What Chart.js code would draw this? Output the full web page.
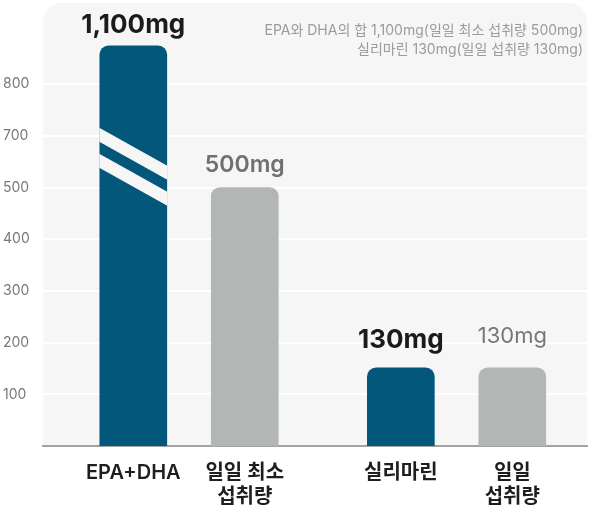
<!DOCTYPE html>
<html lang="ko">
<head>
<meta charset="utf-8">
<script src="https://cdn.jsdelivr.net/npm/chart.js@4/dist/chart.umd.min.js"></script>
<style>
  html, body { margin: 0; padding: 0; background: #fff; }
  #wrap { width: 589px; height: 505px; }
</style>
</head>
<body>
<div id="wrap"><canvas id="omegaChart" width="589" height="505"></canvas></div>
<script>
// ------------------------------------------------------------
// DATA
// ------------------------------------------------------------
const categories = [["EPA+DHA"], ["일일 최소", "섭취량"], ["실리마린"], ["일일", "섭취량"]];
const amountsMg = [1100, 500, 130, 130];          // printed above each bar
const barHeights = [774, 500, 151, 151];          // drawn height on the (broken) axis
const yTickValues = [100, 200, 300, 400, 500, 600, 700];
const yTickLabels = ["100", "200", "300", "400", "500", "700", "800"];
const noteLines = [
  "EPA와 DHA의 합 1,100mg(일일 최소 섭취량 500mg)",
  "실리마린 130mg(일일 섭취량 130mg)"
];

// ------------------------------------------------------------
// STYLE / LAYOUT
// ------------------------------------------------------------
const FONT = "Inter, 'Noto Sans CJK KR', sans-serif";
const BLUE = "#03577a";
const GRAY = "#b2b6b4";
const PANEL = "#f6f6f6";
const barColors = [BLUE, GRAY, BLUE, GRAY];
const barSlots = [0, 1, 2.4, 3.4];               // x position of each bar (gap between groups)
const brokenBar = 0;                              // bar that gets the break marks
const breakValue = 540;

const labelStyles = [
  { font: "700 26px " + FONT, color: "#1b1b1b", gap: 13 },
  { font: "600 23px " + FONT, color: "#707070", gap: 16 },
  { font: "700 26px " + FONT, color: "#1b1b1b", gap: 20 },
  { font: "400 22px " + FONT, color: "#777777", gap: 25 }
];

// ------------------------------------------------------------
// PLUGINS
// ------------------------------------------------------------
const panelPlugin = {
  id: "panel",
  beforeDraw(chart) {
    const { ctx, chartArea: a } = chart;
    const r = 18;
    ctx.save();
    ctx.fillStyle = PANEL;
    ctx.beginPath();
    ctx.moveTo(a.left, a.bottom);
    ctx.lineTo(a.left, a.top + r);
    ctx.arcTo(a.left, a.top, a.left + r, a.top, r);
    ctx.lineTo(a.right - r, a.top);
    ctx.arcTo(a.right, a.top, a.right, a.top + r, r);
    ctx.lineTo(a.right, a.bottom);
    ctx.closePath();
    ctx.fill();
    ctx.restore();
  }
};

const barLabelPlugin = {
  id: "barLabels",
  afterDatasetsDraw(chart) {
    const { ctx } = chart;
    const meta = chart.getDatasetMeta(0);
    const yScale = chart.scales.y;

    // break marks on the tall bar
    const bar = meta.data[brokenBar];
    if (bar) {
      const c = yScale.getPixelForValue(breakValue);
      const l = bar.x - bar.width / 2 - 0.5;
      const rgt = bar.x + bar.width / 2 + 0.5;
      const half = 19;
      ctx.save();
      ctx.fillStyle = PANEL;
      [[-20, -6], [6, 20]].forEach(([t, b]) => {
        ctx.beginPath();
        ctx.moveTo(l, c - half + t);
        ctx.lineTo(rgt, c + half + t);
        ctx.lineTo(rgt, c + half + b);
        ctx.lineTo(l, c - half + b);
        ctx.closePath();
        ctx.fill();
      });
      ctx.restore();
    }

    // value labels
    ctx.save();
    ctx.textAlign = "center";
    ctx.textBaseline = "alphabetic";
    meta.data.forEach((el, i) => {
      const s = labelStyles[i];
      ctx.font = s.font;
      ctx.fillStyle = s.color;
      ctx.fillText(amountsMg[i].toLocaleString("en-US") + "mg", el.x, el.y - s.gap);
    });

    // note, top right
    ctx.font = "400 14px " + FONT;
    ctx.fillStyle = "#9b9b9b";
    ctx.textAlign = "right";
    ctx.textBaseline = "middle";
    noteLines.forEach((line, i) => {
      ctx.fillText(line, 583, 31 + i * 19);
    });
    ctx.restore();
  }
};

// ------------------------------------------------------------
// CHART
// ------------------------------------------------------------
new Chart(document.getElementById("omegaChart"), {
  type: "bar",
  data: {
    datasets: [{
      data: barSlots.map((x, i) => ({ x, y: barHeights[i] })),
      backgroundColor: barColors,
      barThickness: 67,
      borderRadius: { topLeft: 9, topRight: 9, bottomLeft: 0, bottomRight: 0 },
      borderSkipped: false
    }]
  },
  options: {
    responsive: false,
    animation: false,
    events: [],
    layout: { padding: { left: 3, right: 2, top: 3, bottom: 0 } },
    plugins: {
      legend: { display: false },
      tooltip: { enabled: false }
    },
    scales: {
      x: {
        type: "linear",
        min: -0.81,
        max: 4.07,
        bounds: "data",
        offset: false,
        grid: { display: false, offset: false },
        border: { display: true, color: "#a3a3a3", width: 2 },
        afterBuildTicks(scale) {
          scale.ticks = barSlots.map(v => ({ value: v }));
        },
        afterFit(scale) {
          scale.height = 59;
          scale.paddingLeft = 0;
          scale.paddingRight = 0;
        },
        ticks: {
          autoSkip: false,
          maxRotation: 0,
          padding: 7,
          color: "#1e1e1e",
          font: { family: FONT, size: 20, weight: "600", lineHeight: 1.2 },
          callback: (v, i) => categories[i]
        }
      },
      y: {
        min: 0,
        max: 857,
        grid: { color: "#ffffff", lineWidth: 2, drawTicks: false },
        border: { display: false },
        afterBuildTicks(scale) {
          scale.ticks = yTickValues.map(v => ({ value: v }));
        },
        afterFit(scale) {
          scale.width = 40;
          scale.paddingTop = 0;
          scale.paddingBottom = 0;
        },
        ticks: {
          crossAlign: "far",
          padding: 0,
          color: "#787878",
          font: { family: FONT, size: 14 },
          callback: (v, i) => yTickLabels[i]
        }
      }
    }
  },
  plugins: [panelPlugin, barLabelPlugin]
});
</script>
</body>
</html>
